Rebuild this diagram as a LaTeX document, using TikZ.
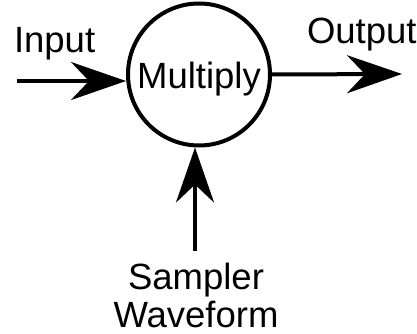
\documentclass[tikz,border=0pt]{standalone}
\usepackage{fontspec}
\setmainfont{Liberation Sans}
\usetikzlibrary{arrows.meta,calc}

\begin{document}
\begin{tikzpicture}[x=1pt,y=-1pt,line width=4pt,
		sig/.style={-{Stealth[length=55pt,width=38pt,inset=18pt]}},
		lbl/.style={font=\fontsize{36.5}{38}\selectfont,inner sep=0pt}]
		\useasboundingbox (0,0) rectangle (417,334);
		\node[draw,circle,minimum size=142pt,inner sep=0pt,lbl,text height=29pt,text depth=0pt] (M) at (199,74.5) {Multiply};
		\node[lbl,anchor=base west] (In) at (12,53) {Input};
		\node[lbl,anchor=base west] (Out) at (305,44) {Output};
		\node[lbl,anchor=base,align=center] (S) at (196,327) {Sampler\\Waveform};
		\coordinate (inbeg) at (17,81);
		\coordinate (outend) at (402,74);
		\coordinate (sbeg) at (195,251);
		\draw[sig] (inbeg) -- (inbeg -| M.west);
		\draw[sig] (M.east) -- (outend);
		\draw[sig] (sbeg) -- (sbeg |- M.south);
	\end{tikzpicture}
\end{document}
